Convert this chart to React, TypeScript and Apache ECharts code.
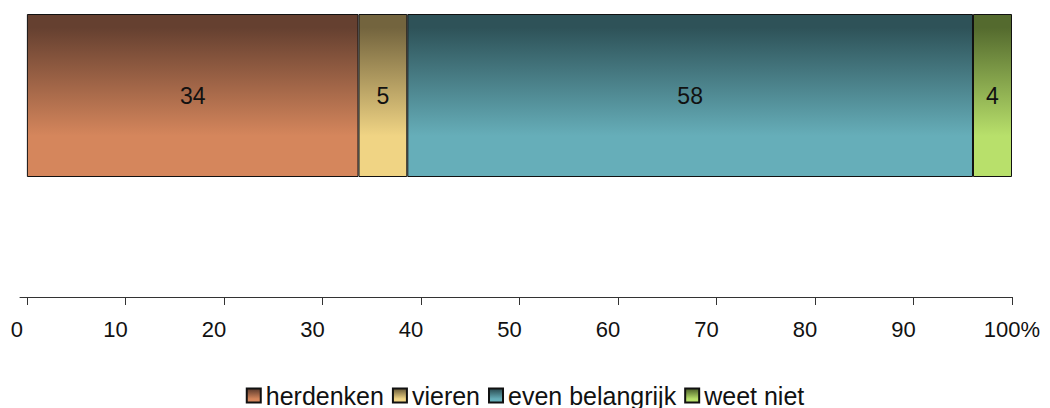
import React, { useEffect, useRef } from "react";
import * as echarts from "echarts";

const categories = ["herdenken", "vieren", "even belangrijk", "weet niet"];
const values = [34, 5, 58, 4];
const tickValues = [0, 10, 20, 30, 40, 50, 60, 70, 80, 90, 100];

const topColors = ["#654030", "#73643e", "#2e5258", "#546a2e"];
const bottomColors = ["#d5865c", "#f0d484", "#66aeb9", "#b8e06b"];

const FONT = "'Liberation Sans', Arial, Helvetica, sans-serif";

export default function App() {
  const ref = useRef<HTMLDivElement>(null);

  useEffect(() => {
    if (!ref.current) return;
    const chart = echarts.init(ref.current, undefined, { renderer: "svg" });
    const total = values.reduce((a, b) => a + b, 0);

    const series = categories.map((name, i) => ({
      name,
      type: "bar",
      stack: "total",
      barWidth: "100%",
      data: [(values[i] / total) * 100],
      label: {
        show: true,
        position: "inside",
        formatter: () => String(values[i]),
        color: "#111",
        fontSize: 23,
        fontFamily: FONT,
      },
      itemStyle: {
        color: new echarts.graphic.LinearGradient(0, 0, 0, 1, [
          { offset: 0, color: topColors[i] },
          { offset: 0.08, color: topColors[i] },
          { offset: 0.75, color: bottomColors[i] },
          { offset: 1, color: bottomColors[i] },
        ]),
        borderColor: "#111",
        borderWidth: 1,
      },
      emphasis: { disabled: true },
    }));

    chart.setOption({
      animation: false,
      textStyle: { fontFamily: FONT },
      grid: { left: 20, right: 38, top: 14, height: 163 },
      xAxis: {
        type: "value",
        min: -0.7,
        max: 100,
        offset: 120,
        splitLine: { show: false },
        axisLine: { show: true, lineStyle: { color: "#333", width: 1 } },
        axisTick: {
          show: true,
          customValues: tickValues,
          length: 8,
          lineStyle: { color: "#333" },
        },
        axisLabel: {
          customValues: tickValues,
          margin: 21,
          fontSize: 22,
          color: "#111",
          fontFamily: FONT,
          formatter: (v: number) => (v === 100 ? "{p|100%}" : `{d|${v}}`),
          rich: {
            d: { fontSize: 22, color: "#111", fontFamily: FONT, padding: [0, 20, 0, 0] },
            p: { fontSize: 22, color: "#111", fontFamily: FONT },
          },
        },
      },
      yAxis: {
        type: "category",
        data: [""],
        show: false,
      },
      legend: {
        data: categories,
        icon: "rect",
        left: "center",
        bottom: 0,
        padding: 0,
        itemWidth: 14,
        itemHeight: 14,
        itemGap: 8,
        textStyle: {
          fontSize: 25,
          lineHeight: 20,
          color: "#111",
          fontFamily: FONT,
          padding: [0, 0, 3, 0],
        },
      },
      series,
    });

    return () => chart.dispose();
  }, []);

  return (
    <div
      ref={ref}
      style={{ position: "absolute", left: 0, top: 0, width: 1050, height: 408 }}
    />
  );
}
